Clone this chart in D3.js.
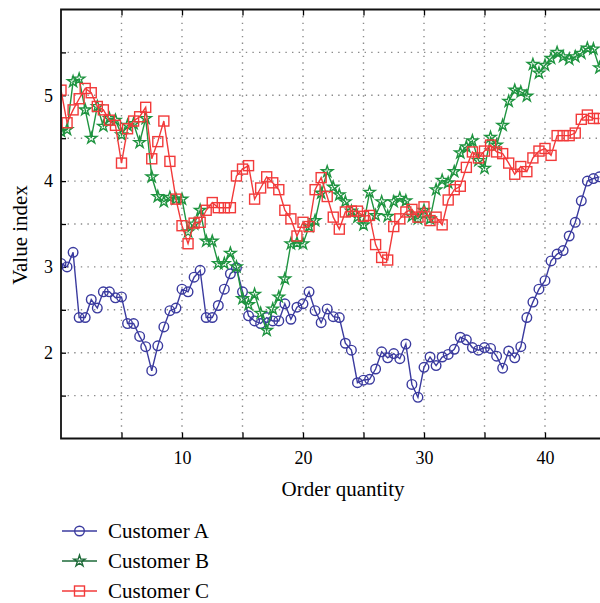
<!DOCTYPE html>
<html>
<head>
<meta charset="utf-8">
<script src="https://cdn.jsdelivr.net/npm/d3@7"></script>
<style>
  body { margin: 0; background: #fff; }
  text { font-family: "Liberation Serif", "Times New Roman", serif; }
</style>
</head>
<body>
<svg id="chart" width="600" height="603"></svg>
<script>
// order quantity (x), one value every half unit
var order = [0, 0.5, 1, 1.5, 2, 2.5, 3, 3.5, 4, 4.5, 5, 5.5, 6, 6.5, 7, 7.5, 8, 8.5, 9, 9.5,
             10, 10.5, 11, 11.5, 12, 12.5, 13, 13.5, 14, 14.5, 15, 15.5, 16, 16.5, 17, 17.5, 18, 18.5, 19, 19.5,
             20, 20.5, 21, 21.5, 22, 22.5, 23, 23.5, 24, 24.5, 25, 25.5, 26, 26.5, 27, 27.5, 28, 28.5, 29, 29.5,
             30, 30.5, 31, 31.5, 32, 32.5, 33, 33.5, 34, 34.5, 35, 35.5, 36, 36.5, 37, 37.5, 38, 38.5, 39, 39.5,
             40, 40.5, 41, 41.5, 42, 42.5, 43, 43.5, 44, 44.5];

var customer_a = [3.04, 3.00, 3.17, 2.41, 2.41, 2.62, 2.52, 2.71, 2.71, 2.64, 2.65, 2.34, 2.34, 2.19, 2.07, 1.79, 2.08, 2.30, 2.49, 2.52,
                  2.74, 2.71, 2.88, 2.96, 2.41, 2.41, 2.55, 2.74, 2.92, 2.99, 2.71, 2.43, 2.37, 2.34, 2.41, 2.37, 2.37, 2.57, 2.39, 2.53,
                  2.57, 2.71, 2.49, 2.35, 2.51, 2.42, 2.41, 2.11, 2.03, 1.65, 1.68, 1.69, 1.81, 2.01, 1.94, 1.99, 1.93, 2.10, 1.63, 1.48,
                  1.83, 1.95, 1.85, 1.95, 1.98, 2.04, 2.18, 2.15, 2.06, 2.03, 2.06, 2.05, 1.96, 1.82, 2.02, 1.94, 2.07, 2.41, 2.59, 2.74,
                  2.84, 3.07, 3.15, 3.19, 3.36, 3.52, 3.77, 4.00, 4.03, 4.05];

var customer_b = [4.58, 4.60, 5.16, 5.19, 4.83, 4.50, 4.87, 4.64, 4.73, 4.71, 4.54, 4.65, 4.67, 4.45, 4.73, 4.05, 3.82, 3.76, 3.81, 3.79,
                  3.79, 3.41, 3.50, 3.66, 3.30, 3.30, 3.04, 3.04, 3.16, 3.00, 2.63, 2.56, 2.68, 2.46, 2.26, 2.51, 2.65, 2.86, 3.27, 3.28,
                  3.27, 3.47, 3.54, 3.86, 4.11, 3.93, 3.84, 3.76, 3.65, 3.58, 3.49, 3.87, 3.60, 3.76, 3.59, 3.76, 3.80, 3.77, 3.59, 3.56,
                  3.66, 3.56, 3.90, 4.01, 3.98, 4.11, 4.33, 4.40, 4.47, 4.24, 4.15, 4.51, 4.42, 4.65, 4.93, 5.06, 5.04, 4.99, 5.36, 5.26,
                  5.35, 5.43, 5.50, 5.45, 5.42, 5.45, 5.49, 5.55, 5.54, 5.32];

var customer_c = [5.06, 4.68, 4.83, 4.96, 5.08, 5.03, 4.87, 4.83, 4.71, 4.65, 4.21, 4.61, 4.70, 4.75, 4.86, 4.26, 4.46, 4.70, 4.23, 3.79,
                  3.48, 3.27, 3.51, 3.52, 3.66, 3.75, 3.69, 3.69, 3.69, 4.06, 4.14, 4.18, 3.79, 3.92, 4.05, 3.98, 3.90, 3.66, 3.56, 3.36,
                  3.52, 3.47, 3.90, 4.04, 3.82, 3.58, 3.44, 3.64, 3.65, 3.65, 3.59, 3.60, 3.26, 3.11, 3.08, 3.47, 3.56, 3.64, 3.67, 3.58,
                  3.70, 3.54, 3.58, 3.49, 3.78, 3.90, 3.94, 4.16, 4.34, 4.27, 4.35, 4.42, 4.34, 4.32, 4.21, 4.08, 4.17, 4.11, 4.27, 4.35,
                  4.38, 4.30, 4.53, 4.53, 4.53, 4.56, 4.72, 4.77, 4.73, 4.73];

var series_names = ["Customer A", "Customer B", "Customer C"];
var x_ticks = [5, 10, 15, 20, 25, 30, 35, 40, 45];
var x_labels = [10, 20, 30, 40];
var y_ticks = [1.5, 2, 2.5, 3, 3.5, 4, 4.5, 5, 5.5];
var y_labels = [2, 3, 4, 5];

// styles
var colors = ["#3b3b9f", "#1f9440", "#f23a3a"];
var legend_colors = ["#3b3b9f", "#1d6a38", "#f23a3a"];
var shapes = ["circle", "star", "square"];

var svg = d3.select("#chart");
var plot = {left: 61, top: 9.5, bottom: 438.5, right: 666};

var x = d3.scaleLinear().domain([0, 50]).range([plot.left, plot.right]);
var y = d3.scaleLinear().domain([1, 6]).range([plot.bottom, plot.top]);

svg.append("defs").append("clipPath").attr("id", "clip")
    .append("rect")
    .attr("x", plot.left).attr("y", plot.top)
    .attr("width", plot.right - plot.left).attr("height", plot.bottom - plot.top);

// dotted grid
var grid = svg.append("g")
    .attr("stroke", "#8a8a8a")
    .attr("stroke-width", 1.4)
    .attr("stroke-dasharray", "1.4,5.2");
grid.selectAll("line.gx")
    .data(x_ticks)
    .enter().append("line")
    .attr("x1", d => x(d)).attr("x2", d => x(d))
    .attr("y1", plot.top).attr("y2", plot.bottom);
grid.selectAll("line.gy")
    .data(y_ticks)
    .enter().append("line")
    .attr("x1", plot.left).attr("x2", plot.right)
    .attr("y1", d => y(d)).attr("y2", d => y(d));

// axes
function style_axis(g) {
    g.select(".domain").remove();
    g.attr("font-family", "Liberation Serif, Times New Roman, serif")
     .attr("font-size", 18);
    g.selectAll(".tick line").attr("stroke", "#000").attr("stroke-width", 1.3);
    g.selectAll(".tick text").attr("fill", "#000");
}

svg.append("g")
    .attr("transform", `translate(0, ${plot.bottom})`)
    .call(d3.axisBottom(x).tickValues(x_ticks).tickSize(-6).tickPadding(13)
          .tickFormat(d => x_labels.includes(d) ? d : ""))
    .call(style_axis);

svg.append("g")
    .attr("transform", `translate(0, ${plot.top})`)
    .call(d3.axisTop(x).tickValues(x_ticks).tickSize(-6).tickFormat(""))
    .call(style_axis);

svg.append("g")
    .attr("transform", `translate(${plot.left}, 0)`)
    .call(d3.axisLeft(y).tickValues(y_ticks).tickSize(-5).tickPadding(8)
          .tickFormat(d => y_labels.includes(d) ? d : ""))
    .call(style_axis);

// draw markers of one shape into a selection
function add_marker(sel, shape, color) {
    if (shape == "circle") {
        sel.append("circle").attr("r", 4.8);
    } else if (shape == "star") {
        sel.append("path").attr("d", d3.symbol(d3.symbolStar, 40)());
    } else {
        sel.append("rect").attr("x", -5).attr("y", -5).attr("width", 10).attr("height", 10);
    }
    sel.selectAll("circle, path, rect")
        .attr("fill", "none")
        .attr("stroke", color)
        .attr("stroke-width", 1.4);
}

var lines = svg.append("g").attr("clip-path", "url(#clip)");
var all_values = [customer_a, customer_b, customer_c];

all_values.forEach(function(vals, s) {
    var pts = vals.map((v, i) => [order[i], v]);
    var line = d3.line().x(d => x(d[0])).y(d => y(d[1]));
    lines.append("path")
        .datum(pts)
        .attr("d", line)
        .attr("fill", "none")
        .attr("stroke", colors[s])
        .attr("stroke-width", 1.4);
    lines.selectAll("g.m" + s)
        .data(pts)
        .enter().append("g")
        .attr("class", "m" + s)
        .attr("transform", d => `translate(${x(d[0])},${y(d[1])})`)
        .each(function() { add_marker(d3.select(this), shapes[s], colors[s]); });
});

// frame
svg.append("path")
    .attr("d", `M${plot.right},${plot.top}H${plot.left}V${plot.bottom}H${plot.right}`)
    .attr("fill", "none")
    .attr("stroke", "#111")
    .attr("stroke-width", 1.8);

// axis titles
svg.append("text")
    .attr("x", 343).attr("y", 496)
    .attr("text-anchor", "middle")
    .attr("font-size", 21)
    .text("Order quantity");

svg.append("text")
    .attr("transform", "translate(27, 235) rotate(-90)")
    .attr("text-anchor", "middle")
    .attr("font-size", 21)
    .text("Value index");

// legend
var legend = svg.append("g");
series_names.forEach(function(nm, s) {
    var ly = 531 + s * 30;
    legend.append("line")
        .attr("x1", 62).attr("x2", 97)
        .attr("y1", ly).attr("y2", ly)
        .attr("stroke", legend_colors[s])
        .attr("stroke-width", 1.4);
    var m = legend.append("g").attr("transform", `translate(79.5, ${ly})`);
    add_marker(m, shapes[s], legend_colors[s]);
    legend.append("text")
        .attr("x", 108).attr("y", ly + 7)
        .attr("font-size", 21)
        .text(nm);
});
</script>
</body>
</html>
